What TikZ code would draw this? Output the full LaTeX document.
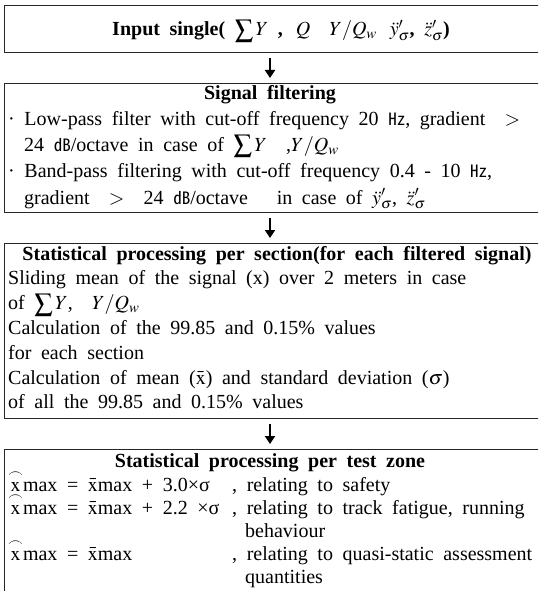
\documentclass[tikz,border=0pt]{standalone}
\usepackage{amsmath}
\usepackage{graphicx}
\usepackage{mathptmx}
\usepackage[no-math]{fontspec}
\setmainfont{Liberation Serif}
\newfontfamily\cjkfont{Noto Sans CJK KR}
\usetikzlibrary{arrows.meta}

\newcommand\boxfont{\fontsize{20}{24}\selectfont\spaceskip=.48em plus .1em\relax}
\newcommand\hz{{\cjkfont\fontsize{17}{20}\selectfont ㎐}}
\newcommand\db{{\cjkfont\fontsize{17}{20}\selectfont ㏈}}
\newcommand\bigsum{\mathop{\vcenter{\hbox{\scalebox{1.3}{$\sum$}}}}\nolimits}
\newcommand\xhat{$\overset{\frown}{\mathrm{x}}$}
\newcommand\xbar{$\bar{\mathrm{x}}$}

\tikzset{
  stagebox/.style={draw=black!85, line width=1pt, rectangle, anchor=north west,
    minimum width=560pt, inner sep=0pt},
  txt/.style={anchor=base west, inner sep=0pt, font=\boxfont},
  ttl/.style={anchor=base, inner sep=0pt, font=\boxfont\bfseries},
  flow/.style={-{Triangle[width=10pt,length=8pt]}, line width=2.6pt,
    shorten <=5pt, shorten >=5pt}
}

\begin{document}
\begin{tikzpicture}[x=1pt, y=-1pt]
  \path[use as bounding box] (0,0) rectangle (538,591);
  \clip (0,0) rectangle (538,591);
  \coordinate (axis) at (270,0);

  % the four stages
  \node[stagebox, minimum height=47.3pt] (input) at (4,4.7) {};
  \node[stagebox, minimum height=129pt] (filter) at (4,83) {};
  \node[stagebox, minimum height=175pt] (section) at (4,243) {};
  \node[stagebox, minimum height=151pt] (zone) at (4,449) {};

  \draw[flow] (input.south -| axis) -- (filter.north -| axis);
  \draw[flow] (filter.south -| axis) -- (section.north -| axis);
  \draw[flow] (section.south -| axis) -- (zone.north -| axis);

  % input
  \node[ttl] (input-t) at (281,36) {Input single( $\bigsum Y$ , \,$Q$\ \ $Y/Q_w$\, $\ddot{y}'_{\sigma}$, $\ddot{z}'_{\sigma}$)};

  % filtering
  \node[ttl] (filter-t) at (270,100) {Signal filtering};
  \node[txt] (filter-1) at (8,125) {· Low-pass filter with cut-off frequency 20 \hz, gradient \ $>$};
  \node[txt] (filter-2) at (24,151) {24 \db/octave in case of $\bigsum Y$ \ ,$Y/Q_w$};
  \node[txt] (filter-3) at (8,177) {· Band-pass filtering with cut-off frequency 0.4 - 10 \hz,};
  \node[txt] (filter-4) at (24,204) {gradient \ $>$ \ 24 \db/octave \ \ in case of $\ddot{y}'_{\sigma}$, $\ddot{z}'_{\sigma}$};

  % per section
  \node[ttl] (section-t) at (277,260) {Statistical processing per section(for each filtered signal)};
  \foreach \ln [count=\i] in {{Sliding mean of the signal (x) over 2 meters in case},
      {of $\bigsum Y$,\ \ $Y/Q_w$},
      {Calculation of the 99.85 and 0.15\% values},
      {for each section},
      {Calculation of mean ($\bar{\mathrm{x}}$) and standard deviation ($\sigma$)},
      {of all the 99.85 and 0.15\% values}}
    \node[txt] (section-\i) at (8,{260+24.8*\i}) {\ln};

  % per test zone
  \node[ttl] (zone-t) at (270,467) {Statistical processing per test zone};
  \node[txt] (zone-1) at (8,491) {\xhat max = \xbar max + 3.0×σ};
  \node[txt] (zone-1r) at (232,491) {, relating to safety};
  \node[txt] (zone-2) at (8,514) {\xhat max = \xbar max + 2.2 ×σ};
  \node[txt] (zone-2r) at (232,514) {, relating to track fatigue, running};
  \node[txt] (zone-2b) at (245,537) {behaviour};
  \node[txt] (zone-3) at (8,560) {\xhat max = \xbar max};
  \node[txt] (zone-3r) at (232,560) {, relating to quasi-static assessment};
  \node[txt] (zone-3b) at (245,583) {quantities};
\end{tikzpicture}
\end{document}
